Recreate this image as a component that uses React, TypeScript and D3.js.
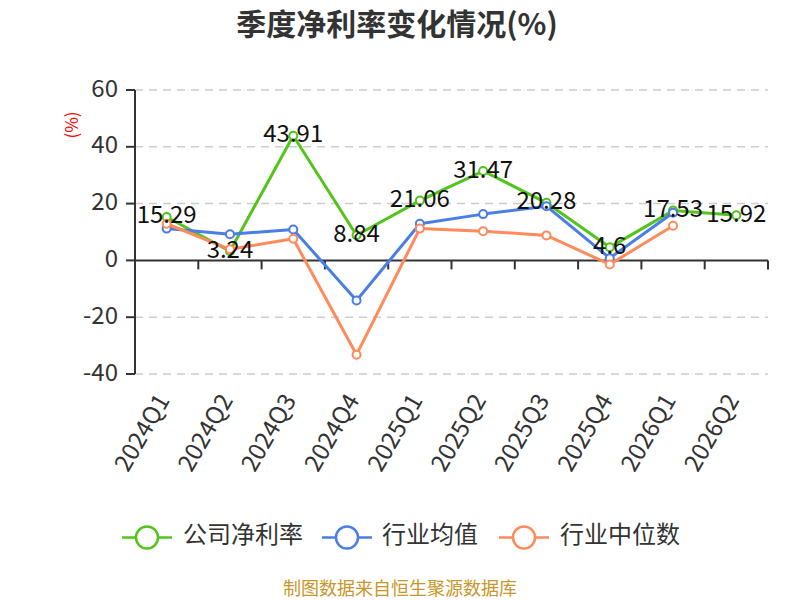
import React from "react";
import * as d3 from "d3";

const categories = ["2024Q1","2024Q2","2024Q3","2024Q4","2025Q1","2025Q2","2025Q3","2025Q4","2026Q1","2026Q2"];
const companyValues: (number|null)[] = [15.29, 3.24, 43.91, 8.84, 21.06, 31.47, 20.28, 4.6, 17.53, 15.92];
const industryAvg: (number|null)[] = [11.2, 9.2, 10.9, -14.1, 12.9, 16.3, 19.1, 0.8, 16.8, null];
const industryMedian: (number|null)[] = [12.9, 3.9, 7.6, -33.2, 11.2, 10.3, 8.8, -1.4, 12.2, null];
const yTicks = [-40, -20, 0, 20, 40, 60];
const seriesNames = ["公司净利率", "行业均值", "行业中位数"];
const colors = ["#52c41a", "#4a7de6", "#ff8a5c"];

const FONT = "'Noto Sans CJK SC', 'Noto Sans', sans-serif";

export default function App() {
  const left = 135, right = 768, top = 90, bottom = 374;
  const x = d3.scaleBand<string>().domain(categories).range([left, right]);
  const y = d3.scaleLinear().domain([-40, 60]).range([bottom, top]);
  const cx = (c: string) => (x(c) as number) + x.bandwidth() / 2;
  const series = [companyValues, industryAvg, industryMedian];
  const line = d3.line<[string, number|null]>()
    .defined(d => d[1] !== null)
    .x(d => cx(d[0]))
    .y(d => y(d[1] as number));

  const legendItems = [
    { sx: 122, tx: 183 },
    { sx: 322, tx: 382 },
    { sx: 499, tx: 560 },
  ];

  return (
    <svg width={800} height={600} style={{ position: "absolute", left: 0, top: 0, background: "#fff" }} fontFamily={FONT}>
      <rect width={800} height={600} fill="#fff" />
      <text x={397} y={35} textAnchor="middle" fontSize={30} fontWeight="bold" fill="#333">季度净利率变化情况(%)</text>
      <text transform={`translate(73,125) rotate(-90)`} textAnchor="middle" dominantBaseline="middle" fontSize={17} fill="#ff0000">(%)</text>
      {/* grid */}
      {yTicks.filter(t => t !== 0).map(t => (
        <line key={t} x1={left} x2={right} y1={y(t)} y2={y(t)} stroke="#cccccc" strokeWidth={1.5} strokeDasharray="8,6" />
      ))}
      {/* y axis */}
      <line x1={left} x2={left} y1={top} y2={bottom} stroke="#333" strokeWidth={2} />
      {yTicks.map(t => (
        <g key={t}>
          <line x1={left - 9} x2={left} y1={y(t)} y2={y(t)} stroke="#333" strokeWidth={2} />
          <text x={118} y={y(t)} textAnchor="end" dominantBaseline="middle" fontSize={24} fill="#333">{t}</text>
        </g>
      ))}
      {/* x axis at zero */}
      <line x1={left} x2={right} y1={y(0)} y2={y(0)} stroke="#333" strokeWidth={2} />
      {categories.map((c) => (
        <line key={c} x1={(x(c) as number) + x.bandwidth()} x2={(x(c) as number) + x.bandwidth()} y1={y(0)} y2={y(0) + 9} stroke="#333" strokeWidth={2} />
      ))}
      {categories.map(c => (
        <text key={c} transform={`translate(${cx(c) - 2},397) rotate(-60)`} textAnchor="end" dominantBaseline="middle" fontSize={24} fill="#333">{c}</text>
      ))}
      {/* lines */}
      {series.map((s, si) => (
        <g key={si}>
          <path d={line(categories.map((c, i) => [c, s[i]] as [string, number|null])) || ""} fill="none" stroke={colors[si]} strokeWidth={3} strokeLinejoin="round" />
          {categories.map((c, i) => s[i] === null ? null : (
            <circle key={c} cx={cx(c)} cy={y(s[i] as number)} r={4} fill="#fff" stroke={colors[si]} strokeWidth={2} />
          ))}
        </g>
      ))}
      {/* labels */}
      {categories.map((c, i) => (
        <text key={c} x={cx(c)} y={y(companyValues[i] as number)} textAnchor="middle" dominantBaseline="middle" fontSize={24} fill="#111">{String(companyValues[i])}</text>
      ))}
      {/* legend */}
      {legendItems.map((it, i) => (
        <g key={i}>
          <line x1={it.sx} x2={it.sx + 50} y1={537.5} y2={537.5} stroke={colors[i]} strokeWidth={2.5} />
          <circle cx={it.sx + 25} cy={537.5} r={11} fill="#fff" stroke={colors[i]} strokeWidth={2.5} />
          <text x={it.tx} y={536} dominantBaseline="middle" fontSize={24} fill="#333">{seriesNames[i]}</text>
        </g>
      ))}
      <text x={400} y={590} textAnchor="middle" dominantBaseline="middle" fontSize={18} fill="#c8962a">制图数据来自恒生聚源数据库</text>
    </svg>
  );
}
